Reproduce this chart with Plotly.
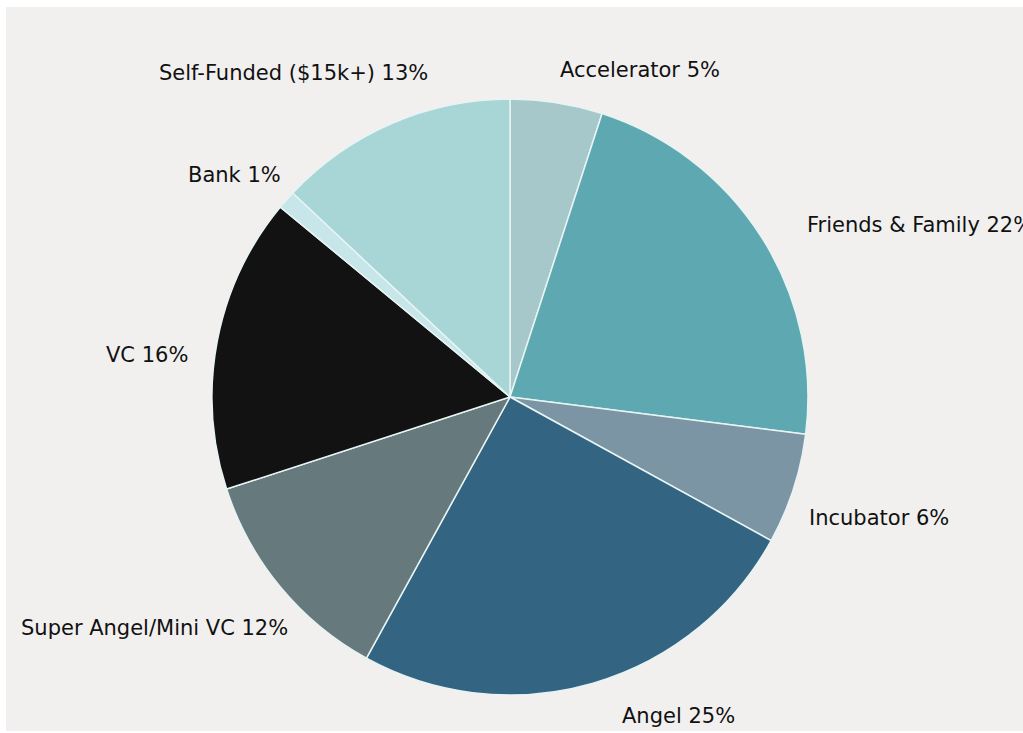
import plotly.graph_objects as go

# Funding sources, clockwise from 12 o'clock
labels = ["Accelerator", "Friends & Family", "Incubator", "Angel",
          "Super Angel/Mini VC", "VC", "Bank", "Self-Funded ($15k+)"]
shares = [5, 22, 6, 25, 12, 16, 1, 13]
colors = ["#a6c8cb", "#5ea9b1", "#7c95a5", "#336583",
          "#66797c", "#121212", "#c6e6ea", "#a8d5d6"]

# Label placement around the pie (pixels from top-left) and anchor side
label_xy = [(558, 70), (805, 225), (807, 518), (620, 716),
            (290, 628), (190, 355), (283, 175), (430, 73)]
label_anchor = ["left", "left", "left", "left",
                "right", "right", "right", "right"]

W, H = 1023, 733
cx, cy, r = 510, 397, 298  # pie centre / radius in pixels (from top-left)

fig = go.Figure(go.Pie(
    labels=labels,
    values=shares,
    sort=False,
    direction="clockwise",
    rotation=0,
    marker=dict(colors=colors, line=dict(color="#e8f4f4", width=1.5)),
    textinfo="none",
    hoverinfo="label+value",
    domain=dict(x=[(cx - r) / W, (cx + r) / W],
                y=[(H - cy - r) / H, (H - cy + r) / H]),
    showlegend=False,
))

for lab, val, (px, py), anc in zip(labels, shares, label_xy, label_anchor):
    fig.add_annotation(
        text=f"{lab} {val}%",
        x=px / W, y=1 - py / H, xref="paper", yref="paper",
        xanchor=anc, yanchor="middle", showarrow=False,
        font=dict(family="DejaVu Sans, sans-serif", size=21, color="#111111"),
    )

fig.update_layout(
    width=W, height=H,
    margin=dict(l=0, r=0, t=0, b=0),
    paper_bgcolor="#ffffff",
    shapes=[dict(type="rect", xref="paper", yref="paper",
                 x0=6 / W, x1=1.0, y0=2 / H, y1=1 - 7 / H,
                 fillcolor="#f1f0ef", line=dict(width=0), layer="below")],
)

fig.write_html("out.html")
